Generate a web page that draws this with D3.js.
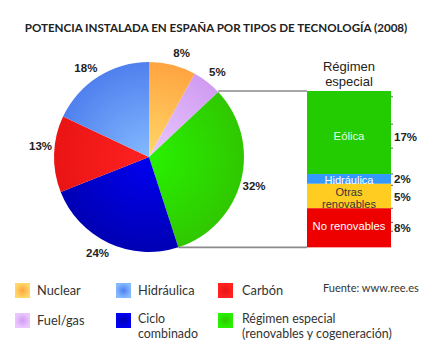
<!DOCTYPE html>
<html><head><meta charset="utf-8">
<script src="https://cdn.jsdelivr.net/npm/d3@7"></script>
<style>body{margin:0;background:#fff}svg{display:block}</style>
</head><body>
<svg id="c" width="433" height="360"></svg>
<script>
const title = "POTENCIA INSTALADA EN ESPAÑA POR TIPOS DE TECNOLOGÍA (2008)";
const categories = ["Nuclear","Fuel/gas","Régimen especial","Ciclo combinado","Carbón","Hidráulica"];
const values = [8,5,32,24,13,18];
const pieLabels = ["8%","5%","32%","24%","13%","18%"];
const innerColors = ["#ffd868","#eac8ff","#28f200","#0000f2","#ff2222","#84baff"];
const outerColors = ["#ffa440","#d09cf2","#30c800","#0000b4","#ea1414","#4f80ee"];
const subCategories = ["Eólica","Hidráulica","Otras renovables","No renovables"];
const subValues = [17,2,5,8];
const subLabels = ["17%","2%","5%","8%"];
const subColors = ["#22cc00","#3399ff","#ffcc22","#ee0000"];
const subTextColors = ["#e8ffe0","#ffffff","#333333","#ffffff"];
const barTicks = [1.2,6.8,11.7,17,19.3,24,26.9,28.7];
const legendOrder = [["Nuclear"],["Hidráulica"],["Carbón"],["Fuel/gas"],["Ciclo","combinado"],["Régimen especial","(renovables y cogeneración)"]];
const legendColorIdx = [0,5,4,1,3,2];
const source = "Fuente: www.ree.es";

const svg = d3.select("#c");
const cx = 149, cy = 157, R = 95;

svg.append("text").attr("x",216).attr("y",32).attr("text-anchor","middle")
  .attr("font-family","Lato").attr("font-weight","bold").attr("font-size",11.6)
  .attr("fill","#222").text(title);

const defs = svg.append("defs");
const pie = d3.pie().sort(null).value(d=>d)(values);
const arc = d3.arc().innerRadius(0).outerRadius(R);
const g = svg.append("g").attr("transform",`translate(${cx},${cy})`);
pie.forEach((p,i)=>{
  const gr = defs.append("radialGradient").attr("id","pg"+i).attr("gradientUnits","userSpaceOnUse")
    .attr("cx",0).attr("cy",0).attr("r",R);
  gr.append("stop").attr("offset","0%").attr("stop-color",innerColors[i]);
  gr.append("stop").attr("offset","100%").attr("stop-color",outerColors[i]);
  g.append("path").attr("d",arc(p)).attr("fill",`url(#pg${i})`);
});
const labelShift = [3,1,1,3,4,-3];
pie.forEach((p,i)=>{
  const a = (p.startAngle+p.endAngle)/2 + labelShift[i]*Math.PI/180;
  const r = 109;
  g.append("text").attr("x",r*Math.sin(a)).attr("y",-r*Math.cos(a)+4)
    .attr("text-anchor","middle").attr("font-family","Liberation Sans").attr("font-weight","bold")
    .attr("font-size",11.5).attr("fill","#222").text(pieLabels[i]);
});

// bar of pie
const green = pie[2];
const p0 = [cx+R*Math.sin(green.startAngle), cy-R*Math.cos(green.startAngle)];
const p1 = [cx+R*Math.sin(green.endAngle), cy-R*Math.cos(green.endAngle)];
const barX0 = 307, barX1 = 391;
const y = d3.scaleLinear().domain([0,d3.sum(subValues)]).range([p0[1]-1, p1[1]]);
svg.append("line").attr("x1",p0[0]).attr("y1",y(0)).attr("x2",barX0).attr("y2",y(0)).attr("stroke","#8a8a8a").attr("stroke-width",1.6);
svg.append("line").attr("x1",p1[0]).attr("y1",y(32)).attr("x2",barX0).attr("y2",y(32)).attr("stroke","#8a8a8a").attr("stroke-width",1.6);
const stackStart = subValues.map((v,i)=>d3.sum(subValues.slice(0,i)));
subValues.forEach((v,i)=>{
  const y0 = y(stackStart[i]), y1 = y(stackStart[i]+v);
  svg.append("rect").attr("x",barX0).attr("y",y0).attr("width",barX1-barX0).attr("height",y1-y0).attr("fill",subColors[i]);
});
const nudge = [3,1.2,2,-1.5];
const fsz = [11.3,11,11,11.3];
subValues.forEach((v,i)=>{
  const y0 = y(stackStart[i]), y1 = y(stackStart[i]+v);
  const mid = (y0+y1)/2;
  const lines = subCategories[i]==="Otras renovables" ? ["Otras","renovables"] : [subCategories[i]];
  const t = svg.append("text").attr("text-anchor","middle").attr("font-family","Liberation Sans")
    .attr("font-size",fsz[i]).attr("fill",subTextColors[i]);
  lines.forEach((s,j)=>{
    t.append("tspan").attr("x",(barX0+barX1)/2).attr("y",mid+4+nudge[i]+(j-(lines.length-1)/2)*11.5).text(s);
  });
  svg.append("text").attr("x",barX1+3).attr("y",mid+4.5+(i===0?4:0)).attr("font-family","Liberation Sans")
    .attr("font-weight","bold").attr("font-size",11.5).attr("fill","#222").text(subLabels[i]);
});
barTicks.forEach(t=>{
  svg.append("line").attr("x1",barX1).attr("x2",barX1+2).attr("y1",y(t)).attr("y2",y(t)).attr("stroke","#333").attr("stroke-width",0.8);
});
const bt = svg.append("text").attr("text-anchor","middle")
  .attr("font-family","Liberation Sans").attr("font-size",13).attr("fill","#222");
bt.append("tspan").attr("x",(barX0+barX1)/2).attr("y",71).text("Régimen");
bt.append("tspan").attr("x",(barX0+barX1)/2).attr("y",86).text("especial");

// legend
const colX = [15,116,218];
const rowY = [283,313];
legendOrder.forEach((lab,k)=>{
  const i = legendColorIdx[k];
  const x = colX[k%3], yy = rowY[Math.floor(k/3)];
  const gr = defs.append("radialGradient").attr("id","lg"+k);
  gr.append("stop").attr("offset","0%").attr("stop-color",outerColors[i]);
  gr.append("stop").attr("offset","100%").attr("stop-color",innerColors[i]);
  svg.append("rect").attr("x",x).attr("y",yy).attr("width",15).attr("height",15).attr("fill",`url(#lg${k})`);
  const t = svg.append("text").attr("font-family","Lato").attr("font-size",lab.length>1?12.4:12.8).attr("fill","#333");
  lab.forEach((s,j)=>{
    t.append("tspan").attr("x",x+22+(k%3===2?2:0)).attr("y",yy+(lab.length>1?9.5:12)+j*15).text(s);
  });
});
svg.append("text").attr("x",323).attr("y",292).attr("font-family","Lato").attr("font-size",11)
  .attr("fill","#333").text(source);
</script>
</body></html>
